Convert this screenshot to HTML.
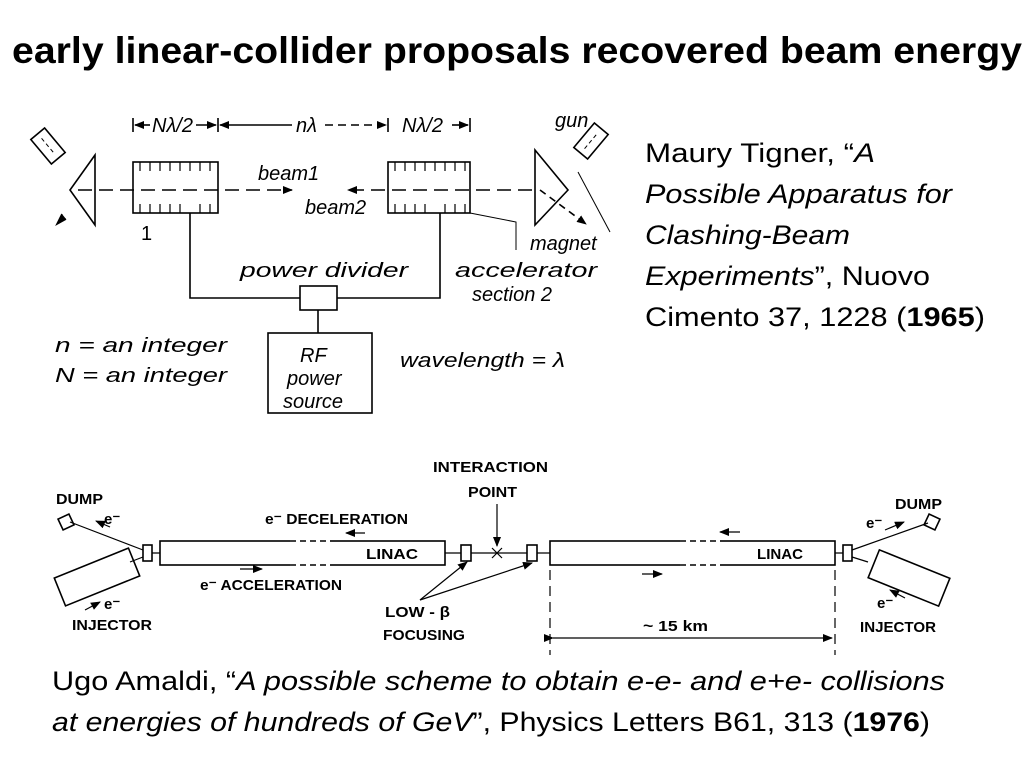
<!DOCTYPE html>
<html><head><meta charset="utf-8"><style>
html,body{margin:0;padding:0;background:#fff;}
svg{display:block;}
text{font-family:"Liberation Sans",sans-serif;fill:#000;}
.d{font-family:"Liberation Sans",sans-serif;font-style:italic;font-size:20px;}
.b{font-size:15px;font-weight:bold;}
.t{font-family:"Liberation Sans",sans-serif;font-size:27px;}
</style></head><body>
<svg width="1024" height="768" viewBox="0 0 1024 768" xmlns="http://www.w3.org/2000/svg">
<defs>
<marker id="ah" markerWidth="10" markerHeight="8" refX="9" refY="4" orient="auto" markerUnits="userSpaceOnUse"><path d="M0,0 L10,4 L0,8 Z" fill="#000"/></marker>
</defs>
<text x="12" y="63" font-size="37" font-weight="bold" textLength="1010" lengthAdjust="spacingAndGlyphs">early linear-collider proposals recovered beam energy</text>

<g stroke="#000" fill="none" stroke-width="1.6">
<line x1="133" y1="118" x2="133" y2="132"/><line x1="218" y1="118" x2="218" y2="132"/>
<line x1="388" y1="118" x2="388" y2="132"/><line x1="470" y1="118" x2="470" y2="132"/>
<line x1="150" y1="125" x2="135" y2="125" marker-end="url(#ah)"/>
<line x1="196" y1="125" x2="216" y2="125" marker-end="url(#ah)"/>
<line x1="292" y1="125" x2="220" y2="125" marker-end="url(#ah)"/>
<line x1="325" y1="125" x2="386" y2="125" marker-end="url(#ah)" stroke-dasharray="8,5"/>
<line x1="452" y1="125" x2="468" y2="125" marker-end="url(#ah)"/>
<rect x="133" y="162" width="85" height="51"/>
<rect x="388" y="162" width="82" height="51"/>
<g stroke-width="1.2">
<path d="M140,162v9M150,162v9M160,162v9M170,162v9M180,162v9M190,162v9M200,162v9M210,162v9M140,213v-9M150,213v-9M160,213v-9M170,213v-9M180,213v-9M200,213v-9M210,213v-9"/>
<path d="M395,162v9M405,162v9M415,162v9M425,162v9M435,162v9M445,162v9M455,162v9M465,162v9M395,213v-9M405,213v-9M415,213v-9M425,213v-9M445,213v-9M455,213v-9M465,213v-9"/>
</g>
<line x1="78" y1="190" x2="292" y2="190" stroke-dasharray="14,7" marker-end="url(#ah)"/>
<line x1="532" y1="190" x2="348" y2="190" stroke-dasharray="14,7" marker-end="url(#ah)"/>
<path d="M95,155 L70,190 L95,225 Z"/>
<path d="M535,150 L568,190 L535,225 Z"/>
<line x1="540" y1="190" x2="586" y2="224" stroke-dasharray="7,5" marker-end="url(#ah)"/>
<line x1="578" y1="172" x2="610" y2="232" stroke-width="1"/>
<path d="M62,214 L57,224 L66,219" fill="#000"/>
<g transform="translate(48,146) rotate(50)"><rect x="-16" y="-9" width="32" height="18"/><line x1="-10" y1="0" x2="10" y2="0" stroke-dasharray="4,3" stroke-width="1"/></g>
<g transform="translate(591,141) rotate(-50)"><rect x="-16" y="-9" width="32" height="18"/><line x1="-10" y1="0" x2="10" y2="0" stroke-dasharray="4,3" stroke-width="1"/></g>
<path d="M190,213 V298 H300"/>
<path d="M337,298 H440 V213"/>
<rect x="300" y="286" width="37" height="24"/>
<line x1="318" y1="310" x2="318" y2="333"/>
<rect x="268" y="333" width="104" height="80"/>
<path d="M470,213 L516,222 V250" stroke-width="1"/>
</g>
<g class="d">
<text x="152" y="132">Nλ/2</text>
<text x="296" y="132">nλ</text>
<text x="402" y="132">Nλ/2</text>
<text x="555" y="127">gun</text>
<text x="258" y="180">beam1</text>
<text x="305" y="214">beam2</text>
<text x="141" y="240" font-style="normal">1</text>
<text x="530" y="250">magnet</text>
<text x="240" y="277" textLength="168" lengthAdjust="spacingAndGlyphs">power divider</text>
<text x="455" y="277" textLength="142" lengthAdjust="spacingAndGlyphs">accelerator</text>
<text x="472" y="301">section 2</text>
<text x="300" y="362">RF</text>
<text x="287" y="385">power</text>
<text x="283" y="408">source</text>
<text x="55" y="352" textLength="172" lengthAdjust="spacingAndGlyphs">n = an integer</text>
<text x="55" y="382" textLength="172" lengthAdjust="spacingAndGlyphs">N = an integer</text>
<text x="400" y="367" textLength="165" lengthAdjust="spacingAndGlyphs">wavelength = λ</text>
</g>

<g class="t">
<text x="645" y="162" textLength="230" lengthAdjust="spacingAndGlyphs">Maury Tigner, “<tspan font-style="italic">A</tspan></text>
<text x="645" y="203" font-style="italic" textLength="307" lengthAdjust="spacingAndGlyphs">Possible Apparatus for</text>
<text x="645" y="244" font-style="italic" textLength="205" lengthAdjust="spacingAndGlyphs">Clashing-Beam</text>
<text x="645" y="285" textLength="285" lengthAdjust="spacingAndGlyphs"><tspan font-style="italic">Experiments</tspan>”, Nuovo</text>
<text x="645" y="326" textLength="340" lengthAdjust="spacingAndGlyphs">Cimento 37, 1228 (<tspan font-weight="bold">1965</tspan>)</text>
</g>

<g stroke="#000" fill="none" stroke-width="1.6">
<line x1="152" y1="553" x2="843" y2="553" stroke-width="1.2"/>
<rect x="160" y="541" width="285" height="24" fill="#fff"/>
<rect x="550" y="541" width="285" height="24" fill="#fff"/>
<line x1="290" y1="541" x2="330" y2="541" stroke="#fff" stroke-width="3"/>
<line x1="290" y1="541" x2="330" y2="541" stroke-dasharray="6,4"/>
<line x1="290" y1="565" x2="330" y2="565" stroke="#fff" stroke-width="3"/>
<line x1="290" y1="565" x2="330" y2="565" stroke-dasharray="6,4"/>
<line x1="680" y1="541" x2="720" y2="541" stroke="#fff" stroke-width="3"/>
<line x1="680" y1="541" x2="720" y2="541" stroke-dasharray="6,4"/>
<line x1="680" y1="565" x2="720" y2="565" stroke="#fff" stroke-width="3"/>
<line x1="680" y1="565" x2="720" y2="565" stroke-dasharray="6,4"/>
<rect x="143" y="545" width="9" height="16" fill="#fff"/>
<rect x="461" y="545" width="10" height="16" fill="#fff"/>
<rect x="527" y="545" width="10" height="16" fill="#fff"/>
<rect x="843" y="545" width="9" height="16" fill="#fff"/>
<path d="M492,548 L502,558 M502,548 L492,558" stroke-width="1.2"/>
<line x1="497" y1="504" x2="497" y2="546" marker-end="url(#ah)" stroke-width="1.2"/>
<line x1="143" y1="550" x2="70" y2="522" stroke-width="1.2"/>
<g transform="translate(66,522) rotate(-25)"><rect x="-6" y="-6" width="12" height="12"/></g>
<line x1="143" y1="557" x2="130" y2="562" stroke-width="1.2"/>
<g transform="translate(97,577) rotate(-22)"><rect x="-40" y="-15" width="80" height="30"/></g>
<line x1="110" y1="527" x2="96" y2="521" marker-end="url(#ah)" stroke-width="1.2"/>
<line x1="85" y1="610" x2="100" y2="602" marker-end="url(#ah)" stroke-width="1.2"/>
<line x1="852" y1="550" x2="928" y2="523" stroke-width="1.2"/>
<g transform="translate(932,522) rotate(25)"><rect x="-6" y="-6" width="12" height="12"/></g>
<line x1="852" y1="557" x2="868" y2="562" stroke-width="1.2"/>
<g transform="translate(909,578) rotate(22)"><rect x="-38" y="-15" width="76" height="30"/></g>
<line x1="885" y1="530" x2="904" y2="522" marker-end="url(#ah)" stroke-width="1.2"/>
<line x1="905" y1="598" x2="890" y2="590" marker-end="url(#ah)" stroke-width="1.2"/>
<line x1="365" y1="533" x2="346" y2="533" marker-end="url(#ah)" stroke-width="1.2"/>
<line x1="240" y1="569" x2="262" y2="569" marker-end="url(#ah)" stroke-width="1.2"/>
<line x1="740" y1="532" x2="720" y2="532" marker-end="url(#ah)" stroke-width="1.2"/>
<line x1="642" y1="574" x2="662" y2="574" marker-end="url(#ah)" stroke-width="1.2"/>
<line x1="420" y1="600" x2="467" y2="562" marker-end="url(#ah)" stroke-width="1.2"/>
<line x1="420" y1="600" x2="532" y2="563" marker-end="url(#ah)" stroke-width="1.2"/>
<line x1="550" y1="570" x2="550" y2="655" stroke-dasharray="10,6" stroke-width="1.2"/>
<line x1="835" y1="570" x2="835" y2="655" stroke-dasharray="10,6" stroke-width="1.2"/>
<line x1="553" y1="638" x2="832" y2="638" marker-end="url(#ah)" marker-start="url(#ah)" stroke-width="1.2"/>
</g>
<g class="b">
<text x="433" y="472" textLength="115" lengthAdjust="spacingAndGlyphs">INTERACTION</text>
<text x="468" y="497" textLength="49" lengthAdjust="spacingAndGlyphs">POINT</text>
<text x="56" y="504" textLength="47" lengthAdjust="spacingAndGlyphs">DUMP</text>
<text x="895" y="509" textLength="47" lengthAdjust="spacingAndGlyphs">DUMP</text>
<text x="104" y="524">e⁻</text>
<text x="866" y="528">e⁻</text>
<text x="104" y="609">e⁻</text>
<text x="877" y="608">e⁻</text>
<text x="265" y="524" textLength="143" lengthAdjust="spacingAndGlyphs">e⁻ DECELERATION</text>
<text x="200" y="590" textLength="142" lengthAdjust="spacingAndGlyphs">e⁻ ACCELERATION</text>
<text x="366" y="559" textLength="52" lengthAdjust="spacingAndGlyphs">LINAC</text>
<text x="757" y="559" textLength="46" lengthAdjust="spacingAndGlyphs">LINAC</text>
<text x="72" y="630" textLength="80" lengthAdjust="spacingAndGlyphs">INJECTOR</text>
<text x="860" y="632" textLength="76" lengthAdjust="spacingAndGlyphs">INJECTOR</text>
<text x="385" y="617" textLength="65" lengthAdjust="spacingAndGlyphs">LOW - β</text>
<text x="383" y="640" textLength="82" lengthAdjust="spacingAndGlyphs">FOCUSING</text>
<text x="643" y="631" textLength="65" lengthAdjust="spacingAndGlyphs">~ 15 km</text>
</g>

<g class="t">
<text x="52" y="690" textLength="893" lengthAdjust="spacingAndGlyphs">Ugo Amaldi, “<tspan font-style="italic">A possible scheme to obtain e-e- and e+e- collisions</tspan></text>
<text x="52" y="731" textLength="878" lengthAdjust="spacingAndGlyphs"><tspan font-style="italic">at energies of hundreds of GeV</tspan>”, Physics Letters B61, 313 (<tspan font-weight="bold">1976</tspan>)</text>
</g>
</svg>
</body></html>
